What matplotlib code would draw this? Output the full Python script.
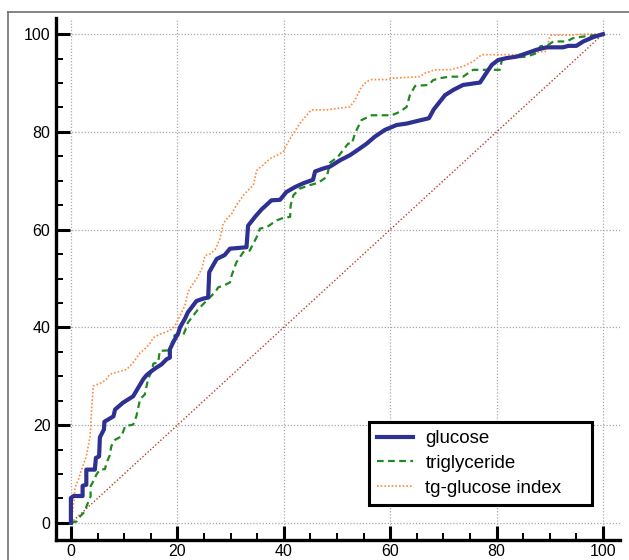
import matplotlib
matplotlib.use("Agg")
import matplotlib.pyplot as plt
from matplotlib.lines import Line2D

plt.rcParams["font.family"] = ["Liberation Sans", "DejaVu Sans"]

# ROC curves: 100-specificity (x) vs sensitivity (y)
glucose_x = [0, 0, 0.5, 2.2, 2.2, 2.9, 2.9, 4.5, 4.7, 5.3, 5.45, 6.2, 6.3, 8.0, 8.3, 9.8, 11.7, 12.3,
             13.6, 14.2, 15.2, 16.1, 17.0, 18.0, 18.6, 18.6, 19.2, 19.7, 20.2, 20.5, 21.4, 22.0, 22.7,
             23.6, 24.9, 25.8, 26.0, 27.4, 28.9, 29.9, 33.0, 33.3, 34.6, 35.8, 37.7, 39.3, 40.5, 42.1,
             43.7, 45.5, 45.9, 47.4, 48.7, 50.6, 52.4, 54.3, 55.6, 57.1, 59.0, 61.2, 63.1, 65.0, 67.3,
             68.2, 70.3, 71.9, 73.7, 76.9, 77.8, 79.1, 80.3, 81.9, 83.8, 85.7, 87.5, 89.4, 92.5, 93.5,
             95.0, 96.3, 98.2, 100]
glucose_y = [0, 5.1, 5.5, 5.5, 7.6, 7.8, 10.9, 10.9, 13.3, 13.6, 17.5, 19.1, 20.7, 21.8, 23.2, 24.6,
             25.9, 27.0, 29.4, 30.2, 31.1, 31.8, 32.4, 33.5, 33.8, 35.5, 36.9, 37.9, 38.9, 40.0, 41.7,
             43.1, 44.1, 45.4, 45.9, 46.1, 51.3, 54.0, 54.8, 56.1, 56.4, 60.8, 62.6, 64.1, 66.0, 66.1,
             67.7, 68.7, 69.5, 70.2, 71.9, 72.5, 72.9, 74.2, 75.2, 76.6, 77.6, 79.0, 80.4, 81.4, 81.7,
             82.2, 82.8, 84.6, 87.5, 88.6, 89.6, 90.1, 91.6, 93.7, 94.7, 95.1, 95.4, 96.1, 96.8, 97.3,
             97.3, 97.6, 97.6, 98.5, 99.4, 100]

trig_x = [0, 1.1, 1.7, 2.6, 2.9, 3.7, 3.7, 4.2, 4.8, 5.45, 6.4, 6.7, 7.3, 7.6, 8.3, 9.5, 10.2, 11.7,
          12.3, 13.0, 13.9, 14.5, 15.2, 15.5, 16.4, 16.7, 18.6, 19.2, 19.5, 21.1, 21.7, 22.0, 23.0,
          23.9, 24.9, 25.8, 27.1, 27.7, 28.6, 29.9, 30.2, 31.1, 32.4, 33.6, 34.6, 35.2, 35.5, 36.8,
          38.7, 39.9, 41.2, 41.3, 41.8, 43.0, 44.9, 46.5, 48.1, 48.7, 50.2, 52.1, 52.8, 53.4, 54.6,
          56.5, 60.3, 61.8, 63.1, 63.7, 64.7, 67.2, 68.1, 69.4, 71.2, 73.7, 75.6, 80.6, 81.0, 81.9,
          85.7, 87.5, 88.2, 89.7, 90.7, 93.2, 94.4, 96.9, 100]
trig_y = [0, 0.3, 1.3, 2.3, 3.3, 5.4, 7.5, 8.5, 9.9, 10.9, 11.0, 12.3, 13.8, 15.7, 17.0, 17.7, 19.8,
          20.1, 21.8, 25.3, 26.3, 29.4, 31.1, 32.6, 32.8, 35.2, 35.3, 37.6, 38.4, 38.4, 40.0, 41.0,
          42.4, 43.7, 44.8, 45.8, 47.2, 48.2, 48.5, 49.2, 50.6, 53.3, 55.4, 55.7, 57.8, 59.1, 60.2,
          60.5, 61.9, 62.4, 62.6, 65.0, 67.0, 68.4, 69.1, 69.6, 70.8, 73.7, 74.9, 77.6, 77.6, 79.7,
          82.4, 83.4, 83.4, 84.1, 85.1, 87.5, 89.4, 89.6, 90.6, 91.0, 91.3, 91.3, 92.7, 92.7, 94.7,
          95.1, 95.4, 96.1, 97.5, 97.8, 98.5, 98.5, 99.2, 99.6, 100]

tyg_x = [0, 0.6, 0.75, 1.4, 2.0, 2.9, 3.6, 3.9, 4.2, 5.8, 6.7, 7.3, 9.5, 10.5, 11.7, 13.0, 13.6, 14.8,
         15.5, 16.7, 18.0, 18.9, 19.5, 20.2, 20.8, 21.4, 22.0, 22.7, 23.6, 24.6, 24.9, 25.2, 26.1,
         27.1, 28.0, 28.6, 29.3, 30.2, 31.1, 32.4, 33.6, 34.3, 34.9, 36.1, 37.4, 38.7, 39.9, 40.5,
         41.2, 43.0, 44.3, 45.2, 48.1, 50.0, 52.4, 53.4, 54.6, 55.6, 56.5, 59.3, 60.6, 62.5, 65.6,
         66.5, 68.4, 71.2, 73.7, 75.6, 77.2, 83.8, 86.3, 89.4, 90.0, 90.3, 93.8, 96.3, 100]
tyg_y = [0, 4.7, 7.1, 8.8, 10.9, 13.6, 17.7, 23.2, 28.0, 28.7, 29.4, 30.4, 31.1, 31.4, 32.8, 34.8,
         35.3, 36.6, 37.9, 38.6, 39.1, 39.6, 40.2, 41.7, 43.1, 44.4, 47.2, 48.5, 49.9, 52.0, 53.3,
         54.7, 55.0, 55.9, 58.1, 61.2, 62.2, 63.2, 65.0, 67.0, 68.4, 69.1, 72.1, 73.2, 74.5, 75.2,
         75.9, 77.3, 78.6, 81.7, 83.4, 84.5, 84.5, 84.8, 85.1, 86.5, 89.2, 90.3, 90.7, 90.7, 91.0,
         91.1, 91.3, 92.0, 92.7, 92.7, 93.4, 94.4, 95.8, 95.8, 96.1, 96.5, 99.5, 99.8, 99.8, 100, 100]

ref_x = [0, 100]
ref_y = [0, 100]

fig = plt.figure(figsize=(6.29, 5.60), dpi=100)
ax = fig.add_axes([56 / 629, 20 / 560, 564 / 629, 522 / 560])

ax.plot(ref_x, ref_y, color="#c0392b", linestyle=(0, (1, 1.5)), linewidth=1.0, zorder=2)
ax.plot(tyg_x, tyg_y, color="#ff8a3d", linestyle=(0, (1, 1.2)), linewidth=1.2, zorder=3,
        label="tg-glucose index")
ax.plot(trig_x, trig_y, color="#1f8a1f", linestyle=(0, (3, 2)), linewidth=1.6, zorder=4,
        label="triglyceride")
ax.plot(glucose_x, glucose_y, color="#2e3192", linewidth=3.0, zorder=5, label="glucose")

ax.set_xlim(-2.8, 103.2)
ax.set_ylim(-3.5, 103.3)

ax.set_xticks(range(0, 101, 20))
ax.set_yticks(range(0, 101, 20))
ax.set_xticks(range(0, 101, 5), minor=True)
ax.set_yticks(range(0, 101, 5), minor=True)
ax.tick_params(which="major", direction="in", length=10, width=2.2, labelsize=11.5, pad=4)
ax.tick_params(which="minor", direction="in", length=5, width=1.4)
ax.tick_params(axis="x", which="major", pad=3)

ax.grid(which="major", color="#a8a8a8", linestyle=(0, (1, 1.5)), linewidth=0.9, zorder=0)
ax.set_axisbelow(True)

for side in ["top", "right"]:
    ax.spines[side].set_visible(False)
for side in ["left", "bottom"]:
    ax.spines[side].set_linewidth(2.4)

# legend box: x 369..592 px, y 422..505 px in the picture
handles, labels = ax.get_legend_handles_labels()
leg = ax.legend(handles[::-1], labels[::-1], loc="lower left",
                bbox_to_anchor=((369 - 56) / 564, 35 / 522, 223 / 564, 83 / 522),
                mode="expand", borderaxespad=0,
                fontsize=13.5, fancybox=False, framealpha=1, edgecolor="black",
                handlelength=1.9, labelspacing=0.4, borderpad=0.45, handletextpad=0.65)
leg.get_frame().set_linewidth(2.2)

# outer frame (only top and left edges fall inside the picture)
fig.add_artist(Line2D([8 / 629, 1], [1 - 12 / 560, 1 - 12 / 560], transform=fig.transFigure,
                      color="#6e6e6e", linewidth=1.2))
fig.add_artist(Line2D([8 / 629, 8 / 629], [0, 1 - 12 / 560], transform=fig.transFigure,
                      color="#6e6e6e", linewidth=1.2))

fig.savefig("out.png", dpi=100)
